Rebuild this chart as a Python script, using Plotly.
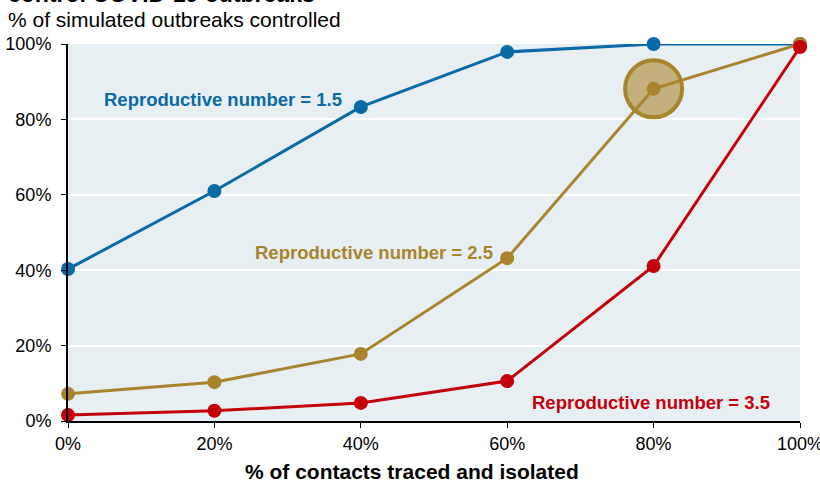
import plotly.graph_objects as go

traced = [0, 20, 40, 60, 80, 100]
r15 = [40.3, 61.0, 83.3, 97.9, 100.0, 100.0]
r25 = [7.2, 10.3, 17.8, 43.2, 88.1, 100.0]
r35 = [1.6, 2.7, 4.8, 10.6, 41.1, 99.2]
highlight_idx = 4

BLUE = "#0A6AA6"
GOLD = "#A8842C"
RED = "#C4000B"
FONT = "Liberation Sans, Arial, sans-serif"

fig = go.Figure()

# highlighted point on the 2.5 series, drawn first so the line sits on top
fig.add_scatter(
    x=[traced[highlight_idx]],
    y=[r25[highlight_idx]],
    mode="markers",
    marker={"size": 57, "color": "#C4B07D", "line": {"color": GOLD, "width": 4}},
    cliponaxis=False,
    hoverinfo="skip",
)

for vals, color, name in [(r15, BLUE, "1.5"), (r25, GOLD, "2.5"), (r35, RED, "3.5")]:
    fig.add_scatter(
        x=traced,
        y=vals,
        mode="lines+markers",
        name=f"Reproductive number = {name}",
        line={"color": color, "width": 3},
        marker={"size": 14, "color": color},
        cliponaxis=False,
    )

labels = [
    (21.2, 85.4, "Reproductive number = 1.5", BLUE),
    (41.8, 44.6, "Reproductive number = 2.5", GOLD),
    (79.6, 5.0, "Reproductive number = 3.5", RED),
]
for x, y, text, color in labels:
    fig.add_annotation(
        x=x, y=y, text=f"<b>{text}</b>", showarrow=False,
        font={"size": 18.5, "color": color, "family": FONT},
    )

# title (cut off at the top edge) and subtitle
fig.add_annotation(
    xref="paper", yref="paper", x=-0.085, y=1.0916, xanchor="left", yanchor="bottom",
    text="<b>control COVID-19 outbreaks</b>", showarrow=False,
    font={"size": 23, "color": "black"},
)
fig.add_annotation(
    xref="paper", yref="paper", x=-0.085, y=1.030, xanchor="left", yanchor="bottom",
    text="% of simulated outbreaks controlled", showarrow=False,
    font={"size": 21, "color": "black"},
)
# x axis title, sits a little left of the plot centre
fig.add_annotation(
    xref="paper", yref="paper", x=0.4706, y=-0.169, xanchor="center", yanchor="bottom",
    text="<b>% of contacts traced and isolated</b>", showarrow=False,
    font={"size": 21, "color": "black"},
)

fig.update_layout(
    width=820,
    height=483,
    margin={"l": 68, "r": 20, "t": 44, "b": 62},
    plot_bgcolor="#E8EFF3",
    paper_bgcolor="white",
    showlegend=False,
    font={"family": FONT, "size": 18, "color": "black"},
)

fig.update_xaxes(
    range=[0, 100],
    tickvals=traced,
    ticktext=[f"{v}%" for v in traced],
    ticklabeloverflow="allow",
    showgrid=False,
    zeroline=False,
    showline=True,
    linecolor="black",
    linewidth=2,
    ticks="outside",
    ticklen=5,
    tickcolor="black",
    automargin=False,
)
fig.update_yaxes(
    range=[0, 100],
    tickvals=[0, 20, 40, 60, 80, 100],
    ticktext=["0%", "20%", "40%", "60%", "80%", "100%"],
    ticklabelstandoff=6,
    showgrid=True,
    gridcolor="white",
    gridwidth=2,
    zeroline=False,
    showline=True,
    linecolor="black",
    linewidth=2,
    ticks="outside",
    ticklen=5,
    tickcolor="black",
    automargin=False,
)

fig.write_html(
    "out.html",
    config={"displayModeBar": False},
    post_script="document.body.style.margin='0';",
)
